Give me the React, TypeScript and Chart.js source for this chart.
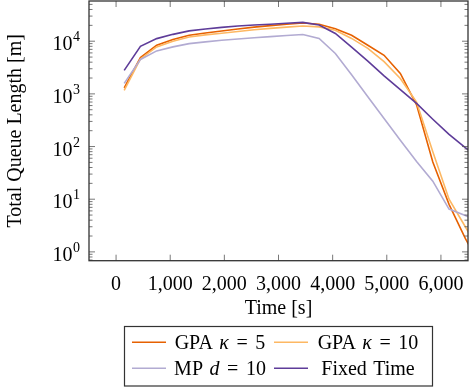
import React, { useEffect, useRef } from 'react';
import { Chart, registerables } from 'chart.js';

Chart.register(...registerables);

// ---- Data ----
const times = [150, 450, 750, 1050, 1350, 1650, 1950, 2250, 2550, 2850, 3150, 3450, 3750, 4050, 4350, 4650, 4950, 5250, 5550, 5850, 6150, 6450, 6750];
const gpaK5 = [1300, 4900, 8400, 10800, 13000, 14300, 15600, 17000, 18500, 19800, 21000, 22200, 21000, 17200, 13000, 8400, 5400, 2450, 620, 51, 8, 1.8, 0.5];
const gpaK10 = [1170, 4600, 7800, 10000, 12000, 13200, 14200, 15300, 16500, 17500, 18500, 19500, 18700, 16100, 11300, 7300, 4100, 1960, 700, 80, 10, 3.0, 0.9];
const mpD10 = [1580, 4500, 6550, 7800, 9000, 9700, 10400, 11000, 11600, 12200, 12800, 13400, 11300, 5850, 2300, 880, 340, 132, 52, 22, 6.5, 4.9, 3.6];
const fixedTime = [2800, 8000, 11200, 13500, 15700, 17000, 18300, 19500, 20300, 21000, 22000, 22800, 20300, 14000, 7700, 4200, 2200, 1200, 660, 330, 170, 95, 55];

const seriesNames = ['GPA κ = 5', 'GPA κ = 10', 'MP d = 10', 'Fixed Time'];
const seriesColors = ['#e66101', '#fdb863', '#b2abd2', '#5e3c99'];
const seriesValues = [gpaK5, gpaK10, mpD10, fixedTime];

const xTickValues = [0, 1000, 2000, 3000, 4000, 5000, 6000];
const yTickValues = [1, 10, 100, 1000, 10000];
const yExponents = ['0', '1', '2', '3', '4'];

const FONT = "'Liberation Serif', 'Times New Roman', serif";

function drawMathLabel(ctx: CanvasRenderingContext2D, text: string, cx: number, baseline: number, size: number) {
  const tokens = text.split(' ');
  const fonts = tokens.map((t) => (/^[a-zκ]$/.test(t) ? `italic ${size}px ${FONT}` : `${size}px ${FONT}`));
  const widths = tokens.map((t, i) => {
    ctx.font = fonts[i];
    return ctx.measureText(t).width;
  });
  const gaps = tokens.map((t, i) => {
    if (i === 0) return 0;
    if (t === '=' || tokens[i - 1] === '=') return size * 0.38;
    return size * 0.32;
  });
  const total = widths.reduce((a, b) => a + b, 0) + gaps.reduce((a, b) => a + b, 0);
  let x = cx - total / 2;
  ctx.textAlign = 'left';
  ctx.textBaseline = 'alphabetic';
  tokens.forEach((t, i) => {
    x += gaps[i];
    ctx.font = fonts[i];
    ctx.fillText(t, x, baseline);
    x += widths[i];
  });
}

const framePlugin = {
  id: 'pgfFrame',
  afterDraw(chart: any) {
    const { ctx, chartArea: a, scales } = chart;
    const xs = scales.x;
    const ys = scales.y;
    ctx.save();

    // tick marks (inward, both sides)
    ctx.strokeStyle = '#555';
    ctx.lineWidth = 0.8;
    ctx.beginPath();
    for (const v of xTickValues) {
      const px = xs.getPixelForValue(v);
      ctx.moveTo(px, a.bottom);
      ctx.lineTo(px, a.bottom - 6);
      ctx.moveTo(px, a.top);
      ctx.lineTo(px, a.top + 6);
    }
    const decades = [0.1, ...yTickValues];
    for (const d of decades) {
      for (let m = 1; m <= 9; m++) {
        const v = d * m;
        if (v < ys.min || v > ys.max) continue;
        const py = ys.getPixelForValue(v);
        const len = m === 1 ? 6 : 3.5;
        ctx.moveTo(a.left, py);
        ctx.lineTo(a.left + len, py);
        ctx.moveTo(a.right, py);
        ctx.lineTo(a.right - len, py);
      }
    }
    ctx.stroke();

    // frame
    ctx.strokeStyle = '#333';
    ctx.lineWidth = 1.3;
    ctx.strokeRect(a.left, a.top, a.right - a.left, a.bottom - a.top);

    // y tick labels 10^k
    ctx.fillStyle = '#000';
    yTickValues.forEach((v, i) => {
      const py = ys.getPixelForValue(v);
      const right = a.left - 9;
      ctx.font = `14px ${FONT}`;
      ctx.textAlign = 'right';
      ctx.textBaseline = 'alphabetic';
      const ew = ctx.measureText(yExponents[i]).width;
      ctx.fillText(yExponents[i], right, py);
      ctx.font = `20px ${FONT}`;
      ctx.fillText('10', right - ew - 0.5, py + 9);
    });

    // legend
    const box = { l: 124.5, t: 326.5, r: 432.5, b: 386 };
    ctx.strokeStyle = '#333';
    ctx.lineWidth = 1.2;
    ctx.strokeRect(box.l, box.t, box.r - box.l, box.b - box.t);
    const lineStarts = [132, 274];
    const textCenters = [220, 368];
    const rowLineY = [342.3, 368.3];
    const rowBase = [348.5, 374.5];
    seriesNames.forEach((name, i) => {
      const col = i % 2;
      const row = Math.floor(i / 2);
      ctx.strokeStyle = seriesColors[i];
      ctx.lineWidth = 1.6;
      ctx.beginPath();
      ctx.moveTo(lineStarts[col], rowLineY[row]);
      ctx.lineTo(lineStarts[col] + 34, rowLineY[row]);
      ctx.stroke();
      ctx.fillStyle = '#000';
      drawMathLabel(ctx, name, textCenters[col], rowBase[row], 20);
    });

    ctx.restore();
  },
};

export default function App() {
  const ref = useRef<HTMLCanvasElement | null>(null);

  useEffect(() => {
    if (!ref.current) return;
    const datasets = seriesNames.map((name, i) => ({
      label: name,
      data: times.map((t, j) => ({ x: t, y: seriesValues[i][j] })),
      borderColor: seriesColors[i],
      backgroundColor: seriesColors[i],
      borderWidth: 1.6,
      pointRadius: 0,
      tension: 0,
      fill: false,
      order: seriesNames.length - i,
    }));
    const chart = new Chart(ref.current, {
      type: 'line',
      data: { datasets },
      options: {
        animation: false,
        responsive: false,
        maintainAspectRatio: false,
        layout: { padding: { top: 1, right: 4, left: 0, bottom: 0 } },
        plugins: { legend: { display: false }, tooltip: { enabled: false } },
        scales: {
          x: {
            type: 'linear',
            min: -500,
            max: 6500,
            afterBuildTicks: (s: any) => {
              s.ticks = xTickValues.map((v) => ({ value: v }));
            },
            afterFit: (s: any) => {
              s.height = 127.3;
            },
            grid: { display: false },
            border: { display: false },
            ticks: {
              autoSkip: false,
              maxRotation: 0,
              padding: 4,
              color: '#000',
              font: { family: FONT, size: 20 },
              callback: (v: any) => Number(v).toLocaleString('en-US'),
            },
            title: {
              display: true,
              text: 'Time [s]',
              color: '#000',
              font: { family: FONT, size: 20 },
              padding: { top: 0, bottom: 67 },
            },
          },
          y: {
            type: 'logarithmic',
            min: 0.68,
            max: 58000,
            afterFit: (s: any) => {
              s.width = 89;
            },
            grid: { display: false },
            border: { display: false },
            ticks: { display: false },
            title: {
              display: true,
              text: 'Total Queue Length [m]',
              color: '#000',
              font: { family: FONT, size: 20 },
              padding: { top: 4, bottom: 0 },
            },
          },
        },
      },
      plugins: [framePlugin],
    });
    return () => chart.destroy();
  }, []);

  return (
    <div style={{ position: 'absolute', left: 0, top: 0, width: 472, height: 388, background: '#fff' }}>
      <canvas ref={ref} width={472} height={388} style={{ display: 'block' }} />
    </div>
  );
}
